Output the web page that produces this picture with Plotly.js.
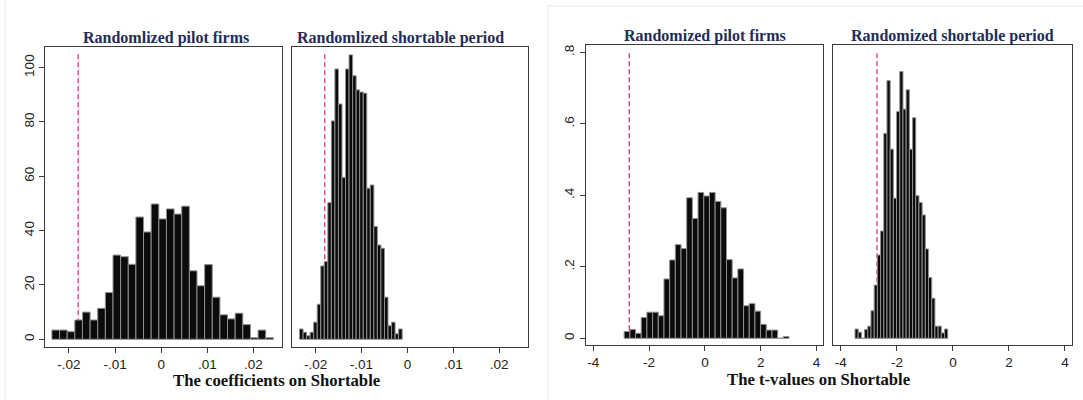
<!DOCTYPE html>
<html>
<head>
<meta charset="utf-8">
<script src="https://cdn.plot.ly/plotly-3.0.1.min.js"></script>
<style>html,body{margin:0;padding:0;background:#fff;}#chart{width:1083px;height:400px;}</style>
</head>
<body>
<div id="chart"></div>
<script>
// ---------- DATA ----------
// Panel A: randomized pilot firms, coefficients (density histogram)
const coefPilotStart = -0.0237;
const coefPilotWidth = 0.001656;
const coefPilotDensity = [3.4, 3.4, 2.8, 7.1, 10, 7.1, 11.4, 17.2, 31, 30.4, 27.6, 45, 39.5, 49.8, 44.3,
  48, 46.1, 49, 25.2, 19.7, 27.5, 15.5, 9, 7.5, 9.6, 5.4, 0.6, 3.4, 0.6];

// Panel B: randomized shortable period, coefficients
const coefPeriodStart = -0.0235;
const coefPeriodWidth = 0.000771;
const coefPeriodDensity = [3.8, 2.6, 1.3, 2.6, 6.3, 12.9, 27, 28.6, 50.3, 80.4, 99.5, 86.6, 59.6, 99.5, 104.7,
  97, 91.8, 91, 90.6, 55.6, 56.8, 41.5, 34.7, 33.5, 15.5, 5, 6.3, 2, 3.8];

// Panel C: randomized pilot firms, t-values
const tPilotStart = -2.892;
const tPilotWidth = 0.2036;
const tPilotDensity = [0.019, 0.025, 0.014, 0.058, 0.073, 0.073, 0.063, 0.166, 0.219, 0.262, 0.251, 0.393,
  0.335, 0.408, 0.398, 0.408, 0.383, 0.365, 0.22, 0.169, 0.194, 0.091, 0.097, 0.076, 0.039, 0.023, 0.023, 0, 0.005];

// Panel D: randomized shortable period, t-values
const tPeriodStart = -3.495;
const tPeriodWidth = 0.1141;
const tPeriodDensity = [0.026, 0.017, 0, 0.025, 0.034, 0.077, 0.149, 0.233, 0.30, 0.573, 0.721, 0.529, 0.392,
  0.634, 0.746, 0.641, 0.695, 0.529, 0.617, 0.399, 0.38, 0.345, 0.25, 0.17, 0.112, 0.034, 0.034, 0.015, 0.026];

// Actual (baseline) estimates marked by the dashed lines
const actualCoef = -0.018;
const actualT = -2.71;
const coefLineTop = 105.3;
const tLineTop = 0.8;

// Tick labels
const coefTickVals = [-0.02, -0.01, 0, 0.01, 0.02];
const coefTickText = ['-.02', '-.01', '0', '.01', '.02'];
const coefYTickVals = [0, 20, 40, 60, 80, 100];
const coefYTickText = ['0', '20', '40', '60', '80', '100'];
const tTickVals = [-4, -2, 0, 2, 4];
const tTickText = ['-4', '-2', '0', '2', '4'];
const tYTickVals = [0, 0.2, 0.4, 0.6, 0.8];
const tYTickText = ['0', '.2', '.4', '.6', '.8'];

const panelTitles = ['Randomlized pilot firms', 'Randomlized shortable period',
  'Randomized pilot firms', 'Randomized shortable period'];
const xTitles = ['The coefficients on Shortable', 'The t-values on Shortable'];

// ---------- BUILD ----------
const W = 1083, H = 400;
const px = v => v / W;
const py = v => 1 - v / H;

function centers(start, width, n) {
  const c = [];
  for (let i = 0; i < n; i++) c.push(start + width * (i + 0.5));
  return c;
}

function histTrace(start, width, dens, xa, ya) {
  return {
    type: 'bar',
    x: centers(start, width, dens.length),
    y: dens,
    width: width,
    xaxis: xa, yaxis: ya,
    marker: { color: '#0b0b0b', line: { color: '#8f8f8f', width: 1 } },
    hoverinfo: 'x+y',
    showlegend: false
  };
}

const data = [
  histTrace(coefPilotStart, coefPilotWidth, coefPilotDensity, 'x', 'y'),
  histTrace(coefPeriodStart, coefPeriodWidth, coefPeriodDensity, 'x2', 'y2'),
  histTrace(tPilotStart, tPilotWidth, tPilotDensity, 'x3', 'y3'),
  histTrace(tPeriodStart, tPeriodWidth, tPeriodDensity, 'x4', 'y4')
];

const tickFont = { family: 'Liberation Sans, Arial, sans-serif', size: 13.5, color: '#222' };
const axisCommon = {
  showline: true, mirror: true, linecolor: '#3a3a3a', linewidth: 1,
  showgrid: false, zeroline: false, ticks: 'outside', ticklen: 5, tickwidth: 1, tickcolor: '#3a3a3a',
  tickfont: tickFont, fixedrange: true
};

const coefXRange = [-0.0252, 0.0262];
const coefYRange = [-2.84, 107.6];
const tXRange = [-4.27, 4.24];
const tYRange = [-0.0187, 0.8204];

const leftY = [py(347), py(47)];
const rightY = [py(345), py(45)];

const layout = {
  width: W, height: H, autosize: false,
  margin: { l: 0, r: 0, t: 0, b: 0 },
  paper_bgcolor: '#ffffff', plot_bgcolor: '#ffffff',
  bargap: 0,
  xaxis: Object.assign({}, axisCommon, { domain: [px(45), px(282)], anchor: 'y', range: coefXRange,
    tickvals: coefTickVals, ticktext: coefTickText }),
  yaxis: Object.assign({}, axisCommon, { domain: leftY, anchor: 'x', range: coefYRange,
    tickvals: coefYTickVals, ticktext: coefYTickText, tickangle: -90 }),
  xaxis2: Object.assign({}, axisCommon, { domain: [px(291.7), px(527.7)], anchor: 'y2', range: coefXRange,
    tickvals: coefTickVals, ticktext: coefTickText }),
  yaxis2: Object.assign({}, axisCommon, { domain: leftY, anchor: 'x2', range: coefYRange,
    showticklabels: false, ticks: '' }),
  xaxis3: Object.assign({}, axisCommon, { domain: [px(585.7), px(823.3)], anchor: 'y3', range: tXRange,
    tickvals: tTickVals, ticktext: tTickText }),
  yaxis3: Object.assign({}, axisCommon, { domain: rightY, anchor: 'x3', range: tYRange,
    tickvals: tYTickVals, ticktext: tYTickText, tickangle: -90 }),
  xaxis4: Object.assign({}, axisCommon, { domain: [px(833.3), px(1071.7)], anchor: 'y4', range: tXRange,
    tickvals: tTickVals, ticktext: tTickText }),
  yaxis4: Object.assign({}, axisCommon, { domain: rightY, anchor: 'x4', range: tYRange,
    showticklabels: false, ticks: '' }),
  shapes: [],
  annotations: []
};

// Dashed reference lines (drawn below the bars)
const dashLine = { color: '#dc3a66', width: 1.3, dash: '5px,3px' };
[['x', 'y', actualCoef, coefLineTop], ['x2', 'y2', actualCoef, coefLineTop],
 ['x3', 'y3', actualT, tLineTop], ['x4', 'y4', actualT, tLineTop]].forEach(s => {
  layout.shapes.push({ type: 'line', layer: 'below', xref: s[0], yref: s[1],
    x0: s[2], x1: s[2], y0: 0, y1: s[3], line: dashLine });
});

// faint frame lines of the two figure images
const frameLine = { color: '#e2e9ee', width: 1 };
layout.shapes.push({ type: 'line', xref: 'paper', yref: 'paper', x0: px(5), x1: px(5), y0: 0, y1: 1, line: frameLine });
layout.shapes.push({ type: 'line', xref: 'paper', yref: 'paper', x0: px(548), x1: px(548), y0: 0, y1: py(6), line: frameLine });
layout.shapes.push({ type: 'line', xref: 'paper', yref: 'paper', x0: px(548), x1: 1, y0: py(6), y1: py(6), line: frameLine });

// Panel titles
const titleFont = { family: 'Liberation Serif, Times New Roman, serif', size: 16, color: '#1f2d58' };
const titlePos = [[165.5, 37.5], [400, 37.5], [705, 35.5], [952.7, 35.5]];
panelTitles.forEach((t, i) => {
  layout.annotations.push({ text: '<b>' + t + '</b>', xref: 'paper', yref: 'paper',
    x: px(titlePos[i][0]), y: py(titlePos[i][1]), xanchor: 'center', yanchor: 'middle',
    showarrow: false, font: titleFont });
});

// X-axis titles
const xTitleFont = { family: 'Liberation Serif, Times New Roman, serif', size: 16.7, color: '#111' };
const xTitlePos = [[276, 380], [818.5, 379.5]];
xTitles.forEach((t, i) => {
  layout.annotations.push({ text: '<b>' + t + '</b>', xref: 'paper', yref: 'paper',
    x: px(xTitlePos[i][0]), y: py(xTitlePos[i][1]), xanchor: 'center', yanchor: 'middle',
    showarrow: false, font: xTitleFont });
});

Plotly.newPlot('chart', data, layout, { displayModeBar: false, staticPlot: true });
</script>
</body>
</html>
